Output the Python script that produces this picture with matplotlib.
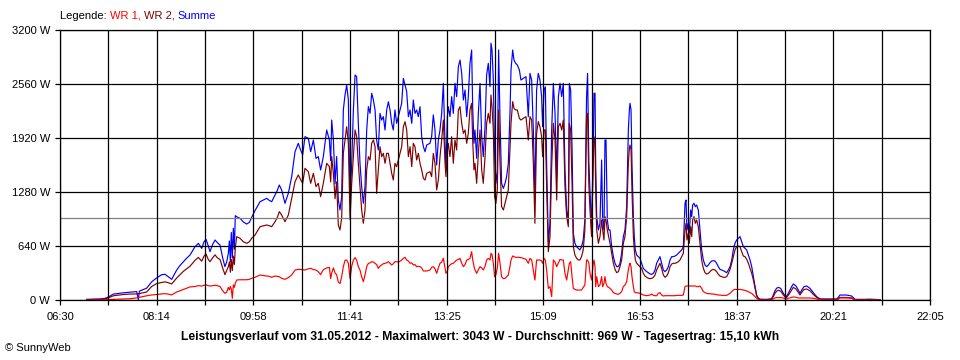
import matplotlib
matplotlib.use("Agg")
import matplotlib.pyplot as plt
import numpy as np

# Zeit in Minuten nach Mitternacht
minutes = [
    418.7, 433.0, 438.4, 442.0, 447.3, 452.7, 458.0, 465.2, 472.4, 474.2,
    475.3, 483.1, 488.5, 493.9, 499.3, 502.8, 506.4, 510.0, 515.4, 519.0,
    522.6, 526.1, 529.7, 535.1, 538.7, 542.3, 544.8, 546.9, 549.4, 551.2,
    554.1, 556.6, 559.1, 562.0, 564.8, 567.3, 569.1, 570.9, 572.0, 573.1,
    574.1, 575.2, 576.3, 577.4, 578.4, 579.9, 583.5, 587.1, 590.6, 593.5,
    596.0, 599.6, 605.0,
    612.1, 615.0, 617.5, 621.1, 623.6, 625.7, 628.2, 631.8, 635.4, 639.0,
    642.6, 646.1, 647.9, 650.8, 653.3, 656.9, 659.4, 662.3, 665.1, 667.6,
    670.1, 673.0, 676.6, 679.5, 680.9, 682.0, 683.8, 685.6, 687.3, 689.1,
    690.9, 692.7, 694.5, 696.3, 698.1, 699.9, 701.7, 703.5, 705.3, 707.1,
    708.8, 710.6, 712.4, 714.2, 716.0, 717.8, 719.6, 721.4, 723.2, 725.0,
    726.8, 728.6, 730.3, 732.1, 733.9, 735.7, 737.5, 739.3, 741.1, 742.9,
    744.7, 746.5, 748.2, 750.0, 751.8, 753.6, 755.4, 757.2, 759.0, 760.8,
    762.6, 764.4, 766.2, 768.0, 769.7, 771.5, 773.3, 775.1, 776.9, 778.7,
    780.5, 782.3, 784.1, 787.6,
    789.4, 791.2, 793.0, 794.8, 796.6, 798.4, 800.2, 802.0, 803.8, 804.8,
    806.3, 807.3, 809.1, 810.9, 812.7, 814.5, 816.3, 818.1, 819.9, 821.7,
    823.5, 825.3, 827.1, 828.8, 830.6, 832.4, 833.5, 834.9, 836.0, 837.8,
    839.6, 841.4, 843.2, 844.9, 846.8, 848.5, 850.3, 852.1, 853.2, 854.3,
    855.7, 857.1, 858.5, 860.0, 861.4, 862.9, 864.6, 866.5, 868.3, 870.0,
    871.8, 873.6, 874.7, 876.5, 877.9, 879.7, 881.5, 883.7, 885.4, 887.9,
    890.8, 893.3, 895.1, 896.9, 898.7, 900.4, 902.2, 904.0, 905.8, 907.6,
    908.7, 910.2, 911.6, 913.0, 914.8, 916.6, 918.4, 920.2, 922.0, 923.8,
    925.6, 927.4, 929.2, 930.9, 932.7, 934.5, 936.3, 937.4, 938.8, 940.3,
    941.7, 943.4, 945.2, 947.0, 948.7, 950.5, 952.3, 954.1, 955.9, 957.0,
    958.4, 959.6, 961.3, 963.1,
    963.9, 965.0, 965.7, 966.8, 968.6, 970.3, 972.1, 973.2, 974.6, 975.7,
    976.8, 978.2, 979.7, 981.1, 982.9, 984.7, 986.5, 988.3, 990.1, 991.8,
    993.6, 995.4, 997.2, 999.0, 1000.8, 1001.9, 1002.6, 1003.7, 1004.7, 1006.2,
    1007.2, 1008.3, 1009.8, 1011.5, 1013.3, 1015.1, 1016.9, 1018.7, 1020.5, 1022.3,
    1024.1, 1025.9, 1027.7, 1029.5, 1031.2, 1033.0, 1034.8, 1036.6, 1038.4, 1040.2,
    1042.0, 1043.8, 1045.6, 1047.4, 1049.2, 1050.9, 1052.7, 1054.5, 1056.3, 1058.1,
    1059.9, 1061.7, 1062.8, 1063.8, 1065.3, 1066.3, 1067.8, 1068.9, 1069.9, 1071.4,
    1072.8, 1074.2, 1076.0, 1077.8, 1079.6, 1081.4, 1083.2, 1085.0, 1086.8, 1088.6,
    1090.4, 1092.2, 1093.9, 1095.7, 1097.5, 1099.3, 1101.1, 1102.9, 1104.7, 1106.5,
    1108.3, 1110.1, 1111.9, 1113.6, 1115.4, 1117.2, 1119.0, 1120.8, 1122.6, 1124.4,
    1126.2, 1128.0, 1129.8, 1131.6, 1133.4, 1135.2, 1137.0, 1138.7, 1140.5, 1142.3,
    1149.5, 1154.8, 1156.6, 1158.4, 1160.2, 1162.0, 1164.5, 1167.4, 1170.2, 1172.7,
    1176.3, 1178.1, 1181.0, 1183.5, 1185.3, 1187.1, 1189.6, 1192.5, 1196.0, 1199.6,
    1203.2, 1206.8, 1224.7, 1226.5, 1228.2, 1235.4, 1240.8, 1244.4, 1255.1, 1260.5,
    1271.3,
]

wr1 = [
    0, 2, 3, 5, 8, 10, 12, 15, 25, 30,
    32, 50, 60, 65, 72, 75, 70, 60, 95, 110,
    125, 140, 155, 160, 170, 165, 175, 180, 170, 165,
    170, 175, 170, 160, 110, 79, 90, 150, 120, 160,
    130, 20, 180, 150, 200, 237, 240, 240, 240, 245,
    257, 270, 296,
    284, 280, 269, 284, 280, 276, 257, 245, 265, 296,
    355, 363, 363, 360, 355, 370, 375, 360, 355, 335,
    300, 360, 380, 387, 253, 320, 380, 320, 300, 213,
    194, 276, 395, 470, 474, 435, 253, 400, 474, 502,
    474, 395, 355, 276, 217, 296, 395, 435, 440, 454,
    450, 435, 420, 375, 400, 415, 430, 435, 440, 454,
    435, 415, 430, 454, 454, 450, 460, 474, 494, 506,
    474, 462, 435, 440, 415, 420, 395, 400, 395, 380,
    344, 344, 344, 355,
    387, 395, 370, 316, 380, 435, 450, 494, 375, 316,
    340, 395, 415, 430, 435, 454, 474, 480, 494, 435,
    395, 420, 474, 480, 494, 573, 480, 400, 356, 316,
    360, 395, 380, 356, 400, 474, 494, 474, 553, 540,
    435, 276, 300, 380, 553, 435, 276, 253, 257, 276,
    296, 400, 474, 522, 514, 506, 506, 506, 502, 494,
    482, 435, 494, 474, 356, 237, 474, 474, 474, 462,
    435, 494, 474, 356, 138, 158, 40, 474, 450, 395,
    440, 482, 474, 474, 316, 237, 356, 435, 454, 277,
    138, 126, 118, 118, 118, 118, 150, 178, 474, 474,
    435, 316, 237, 435,
    474, 395, 158, 277, 158, 178, 277, 158, 197, 277,
    197, 158, 150, 138, 118, 87, 79, 71, 67, 79,
    99, 158, 178, 217, 356, 415, 435, 395, 277, 158,
    99, 87, 87, 83, 79, 70, 59, 55, 51, 55,
    59, 71, 55, 51, 51, 79, 87, 59, 47, 51,
    51, 51, 51, 51, 51, 51, 55, 55, 55, 55,
    59, 158, 166, 166, 166, 166, 166, 166, 166, 166,
    166, 158, 158, 166, 138, 99, 87, 79, 75, 75,
    71, 71, 67, 63, 59, 59, 55, 55, 55, 55,
    67, 79, 99, 118, 126, 126, 126, 126, 122, 118,
    114, 107, 99, 87, 79, 59, 40, 20, 8, 4,
    2, 4, 16, 24, 28, 28, 28, 24, 10, 20,
    32, 36, 32, 24, 24, 24, 24, 24, 24, 20,
    12, 4, 4, 12, 24, 24, 20, 2, 2, 2,
    1,
]

wr2 = [
    5, 8, 15, 25, 50, 58, 65, 70, 72, 75,
    76, 95, 160, 195, 208, 215, 205, 190, 260, 300,
    340, 370, 400, 470, 505, 460, 520, 545, 480, 455,
    500, 535, 500, 480, 380, 300, 350, 395, 450, 330,
    480, 350, 520, 420, 620, 751, 731, 690, 672, 690,
    731, 770, 869,
    889, 880, 869, 928, 980, 1047, 1007, 928, 1007, 1205,
    1403, 1482, 1442, 1383, 1561, 1521, 1383, 1501, 1343, 1383,
    1225, 1383, 1620, 1580, 1400, 1700, 1500, 1200, 1400, 889,
    830, 968, 1738, 1896, 2054, 1857, 950, 1383, 1699, 2015,
    1936, 1620, 1343, 1067, 909, 1067, 1541, 1699, 1659, 1857,
    1896, 1817, 1264, 1541, 1817, 1699, 1738, 1620, 1738, 1738,
    1620, 1501, 1422, 1620, 1580, 1659, 1738, 1817, 2054, 2113,
    2015, 1699, 1817, 1580, 1857, 1817, 1659, 1738, 1620, 1541,
    1442, 1422, 1501, 1521,
    1462, 1738, 1620, 1304, 1422, 1699, 1896, 2133, 1620, 1462,
    1778, 1857, 1699, 1936, 1620, 1896, 1778, 2252, 2291, 2094,
    1975, 2015, 1857, 1975, 2252, 2331, 1896, 1541, 1620, 1383,
    1738, 2015, 1541, 1383, 1699, 2094, 2212, 2094, 2430, 2291,
    2015, 1225, 1146, 1304, 2252, 1620, 1106, 1067, 1146, 1225,
    1304, 1778, 2094, 2351, 2272, 2252, 2252, 2153, 2133, 2153,
    2173, 1896, 2173, 2133, 1620, 909, 1975, 2114, 2054, 1936,
    1699, 2015, 2015, 1343, 573, 751, 1580, 2094, 1896, 1185,
    2054, 2094, 2015, 2133, 1343, 988, 869, 2094, 2015, 1383,
    632, 533, 494, 474, 474, 514, 593, 830, 2173, 2212,
    1343, 1067, 751, 1620,
    1936, 1857, 1304, 830, 672, 751, 948, 830, 711, 988,
    948, 830, 751, 672, 553, 435, 363, 324, 336, 395,
    474, 672, 751, 988, 1620, 1797, 1837, 1778, 1304, 751,
    593, 474, 435, 415, 395, 375, 316, 284, 269, 257,
    253, 257, 269, 296, 356, 395, 435, 375, 296, 269,
    284, 324, 395, 427, 435, 435, 442, 454, 474, 514,
    553, 830, 909, 711, 790, 672, 869, 751, 948, 988,
    909, 948, 869, 672, 474, 375, 324, 308, 316, 336,
    356, 363, 356, 336, 304, 284, 277, 269, 269, 277,
    316, 363, 435, 514, 593, 632, 640, 632, 573, 521,
    514, 482, 435, 375, 316, 237, 138, 47, 20, 8,
    4, 10, 40, 80, 105, 115, 105, 60, 20, 55,
    120, 150, 130, 90, 60, 90, 125, 130, 110, 65,
    30, 8, 8, 15, 30, 30, 25, 4, 5, 5,
    2,
]

summe = [
    8, 12, 20, 35, 70, 78, 85, 92, 100, 5,
    105, 140, 215, 262, 300, 305, 276, 245, 355, 410,
    454, 495, 533, 632, 671, 612, 690, 719, 640, 573,
    660, 711, 680, 652, 500, 395, 450, 553, 700, 450,
    800, 500, 850, 600, 1000, 987, 967, 925, 900, 920,
    980, 1060, 1165,
    1205, 1180, 1165, 1244, 1300, 1363, 1304, 1146, 1264, 1462,
    1758, 1857, 1798, 1719, 1936, 1916, 1758, 1896, 1679, 1699,
    1541, 1699, 2015, 1896, 1650, 2133, 1900, 1380, 1700, 1185,
    1067, 1225, 2252, 2430, 2548, 2370, 1185, 1620, 2252, 2667,
    2647, 2094, 1620, 1343, 1146, 1343, 2015, 2292, 2212, 2450,
    2370, 2252, 1896, 1778, 2212, 2133, 2173, 2015, 2252, 2350,
    2252, 2094, 2015, 2252, 2094, 2173, 2250, 2331, 2627, 2548,
    2469, 2173, 2252, 2094, 2370, 2212, 2252, 2173, 2291, 1936,
    1818, 1758, 1837, 1857,
    1936, 2193, 2015, 1600, 1896, 2015, 2212, 2568, 1857, 1541,
    2173, 2291, 2173, 2410, 2212, 2568, 2410, 2765, 2844, 2686,
    2370, 2489, 2173, 2410, 2805, 2963, 2291, 1857, 2015, 1680,
    2212, 2568, 1936, 1699, 2054, 2667, 2805, 2528, 3043, 2963,
    2607, 1699, 1383, 1541, 2963, 2133, 1383, 1323, 1383, 1462,
    1620, 2212, 2726, 2963, 2844, 2805, 2785, 2726, 2607, 2627,
    2647, 2173, 2686, 2607, 2015, 1225, 2489, 2686, 2607, 2410,
    2054, 2489, 2528, 1620, 691, 909, 2015, 2568, 2212, 1462,
    2410, 2568, 2410, 2568, 1541, 1067, 948, 2568, 2490, 1817,
    790, 672, 632, 612, 593, 632, 711, 948, 2410, 2686,
    1620, 1304, 830, 1817,
    2450, 2450, 1620, 988, 830, 909, 1659, 948, 830, 1896,
    1896, 948, 830, 830, 632, 514, 435, 395, 395, 435,
    553, 751, 830, 1106, 2015, 2252, 2331, 2252, 1620, 988,
    751, 593, 533, 514, 494, 435, 375, 356, 336, 324,
    308, 304, 316, 356, 435, 474, 514, 435, 356, 336,
    356, 395, 474, 514, 514, 521, 533, 553, 573, 593,
    632, 1146, 1185, 830, 909, 790, 1067, 988, 1126, 1146,
    1106, 1126, 1067, 830, 593, 474, 415, 395, 415, 442,
    462, 466, 462, 435, 395, 363, 356, 348, 336, 324,
    356, 395, 474, 593, 672, 711, 731, 751, 691, 632,
    612, 593, 533, 474, 395, 276, 158, 59, 20, 8,
    8, 15, 59, 110, 140, 150, 138, 79, 32, 79,
    158, 190, 166, 118, 79, 118, 158, 166, 138, 87,
    40, 12, 12, 32, 59, 59, 47, 8, 8, 10,
    4,
]

x_labels = ["06:30", "08:14", "09:58", "11:41", "13:25",
            "15:09", "16:53", "18:37", "20:21", "22:05"]
y_ticks = [0, 640, 1280, 1920, 2560, 3200]
durchschnitt = 969
titel = ("Leistungsverlauf vom 31.05.2012 - Maximalwert: 3043 W - "
         "Durchschnitt: 969 W - Tagesertrag: 15,10 kWh")
legende = [("Legende: ", "black"), ("WR 1, ", "#FF0000"),
           ("WR 2, ", "#800000"), ("Summe", "#0000FF")]

plt.rcParams['font.family'] = ['Liberation Sans', 'DejaVu Sans']

fig = plt.figure(figsize=(9.6, 3.6), dpi=100)
ax = fig.add_axes([60 / 960, 60 / 360, 870 / 960, 270 / 360])

t = np.array(minutes)
ax.plot(t, summe, color="#0000FF", lw=0.85, zorder=1.1)
ax.plot(t, wr2, color="#800000", lw=0.85, zorder=1.2)
ax.plot(t, wr1, color="#FF0000", lw=0.85, zorder=1.3)
ax.axhline(durchschnitt, color="#808080", lw=0.9, zorder=1.4)

ax.set_xlim(390, 1325)
ax.set_ylim(0, 3200)
major = np.linspace(390, 1325, len(x_labels))
ax.set_xticks(major)
ax.set_xticklabels(x_labels)
ax.set_xticks((major[:-1] + major[1:]) / 2, minor=True)
ax.set_yticks(y_ticks)
ax.set_yticklabels([f"{v} W" for v in y_ticks])

ax.set_axisbelow(False)
ax.grid(True, which="both", color="black", lw=0.9)
ax.tick_params(which="both", direction="out", length=3.6, width=0.9,
               colors="black", labelsize=8)
ax.tick_params(axis="x", pad=5)
ax.tick_params(axis="y", pad=3.5)
for s in ax.spines.values():
    s.set_linewidth(0.9)
    s.set_color("black")

fig.text(480 / 960, 1 - 337 / 360, titel, ha="center", va="center",
         fontsize=8.7, fontweight="bold")
fig.text(5 / 960, 1 - 348 / 360, "\u00a9 SunnyWeb", ha="left", va="center",
         fontsize=8)

# Legende oben links, farbige Teile hintereinander
renderer = fig.canvas.get_renderer()
x_px = 60
for txt, col in legende:
    fig.text(x_px / 960, 1 - 16 / 360, txt, color=col, ha="left",
             va="center", fontsize=8)
    probe = fig.text(0, 0, "|" + txt + "|", fontsize=8)
    ref = fig.text(0, 0, "||", fontsize=8)
    w = probe.get_window_extent(renderer).width - ref.get_window_extent(renderer).width
    probe.remove()
    ref.remove()
    x_px += w

fig.savefig("out.png", dpi=100)
